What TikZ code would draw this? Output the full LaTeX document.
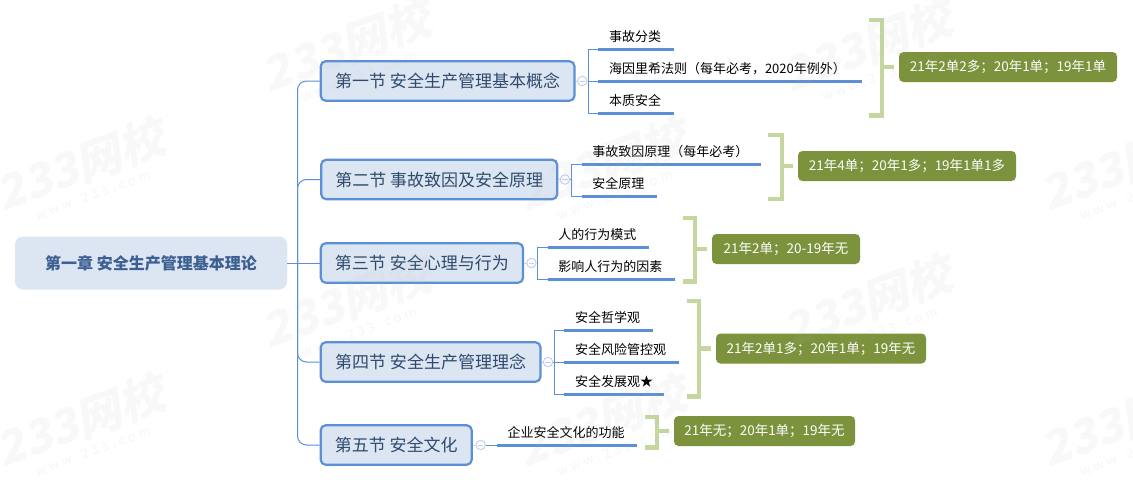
\documentclass[tikz,border=0pt]{standalone}
\usepackage{fontspec}
\setmainfont{Noto Sans CJK SC}
\usetikzlibrary{calc}
\definecolor{linkblue}{HTML}{5B8FD6}
\definecolor{boxfill}{HTML}{DCE6F2}
\definecolor{sectext}{HTML}{2F4A6D}
\definecolor{roottext}{HTML}{3D5F92}
\definecolor{tagfill}{HTML}{7C923C}
\definecolor{bracegreen}{HTML}{C5D79F}
\definecolor{circleblue}{HTML}{C3D1EE}
\definecolor{wmgray}{HTML}{B8B8B8}
\tikzset{
  x=1pt,y=-1pt,
  rootbox/.style={fill=boxfill,rounded corners=8,text=roottext,font=\fontsize{16}{19}\selectfont\bfseries,minimum width=272,minimum height=53,inner sep=0},
  secbox/.style={draw=linkblue,line width=2.2pt,fill=boxfill,rounded corners=5,text=sectext,font=\fontsize{17}{20}\selectfont,minimum height=39.5,inner sep=0},
  leaf/.style={anchor=south west,font=\fontsize{13}{15}\selectfont,inner xsep=10.5,inner ysep=0,minimum height=24.5,text width=#1,align=left,text=black},
  tagbox/.style={fill=tagfill,rounded corners=4.5,text=white,font=\fontsize{13.5}{15}\selectfont,minimum height=30,inner sep=0},
  conn/.style={draw=linkblue,line width=1pt},
  fork/.style={conn,rounded corners=9},
  under/.style={draw=linkblue,line width=3pt},
  brk/.style={draw=bracegreen,line width=4.4pt},
  tick/.style={brk,shorten >=4.4pt},
  collapse/.style={circle,draw=circleblue,line width=1pt,fill=white,minimum size=9.5,inner sep=0,
    path picture={\draw[circleblue,line width=.9pt] ($(path picture bounding box.center)+(-2.6,0)$) -- ($(path picture bounding box.center)+(2.6,0)$);}},
  wmmain/.style={text=wmgray,opacity=.09,rotate=20,xslant=.22,font=\fontsize{46}{50}\selectfont\bfseries,inner sep=0},
  wmsub/.style={text=wmgray,opacity=.12,rotate=20,font=\fontsize{13}{15}\selectfont\addfontfeatures{LetterSpace=28},inner sep=0},
}
\begin{document}
\begin{tikzpicture}
\useasboundingbox (0,0) rectangle (1133,482);
\fill[white] (0,0) rectangle (1133,482);

% main nodes
\node[rootbox] (root) at (151,263) {第一章 安全生产管理基本理论};
\node[secbox,minimum width=253.8] (s1) at (447.6,81) {第一节 安全生产管理基本概念};
\node[secbox,minimum width=236] (s2) at (439.2,179.5) {第二节 事故致因及安全原理};
\node[secbox,minimum width=202.3] (s3) at (421.9,263) {第三节 安全心理与行为};
\node[secbox,minimum width=219.8] (s4) at (430.6,362) {第四节 安全生产管理理念};
\node[secbox,minimum width=151] (s5) at (396.2,445) {第五节 安全文化};

% collapse marks
\node[collapse] (c1) at (582.3,81) {};
\node[collapse] (c2) at (565,179.5) {};
\node[collapse] (c3) at (531.4,263) {};
\node[collapse] (c4) at (548,362) {};
\node[collapse] (c5) at (480.7,445) {};

% leaves
\node[leaf=54] (a1) at (598.3,49.5) {事故分类};
\node[leaf=242] (a2) at (598.3,81) {海因里希法则（每年必考，2020年例外）};
\node[leaf=54] (a3) at (598.3,113) {本质安全};
\node[leaf=158] (b1) at (581.7,164) {事故致因原理（每年必考）};
\node[leaf=54] (b2) at (581.7,196) {安全原理};
\node[leaf=80] (d1) at (547.7,247.3) {人的行为模式};
\node[leaf=106] (d2) at (547.7,279.3) {影响人行为的因素};
\node[leaf=67] (e1) at (564.3,330) {安全哲学观};
\node[leaf=93] (e2) at (564.3,362) {安全风险管控观};
\node[leaf=78] (e3) at (564.3,394) {安全发展观★};
\node[leaf=119] (f1) at (497,445) {企业安全文化的功能};

% tags
\node[tagbox,minimum width=218] (t1) at (1008,67) {21年2单2多；20年1单；19年1单};
\node[tagbox,minimum width=218] (t2) at (907,166) {21年4单；20年1多；19年1单1多};
\node[tagbox,minimum width=148] (t3) at (786,249) {21年2单；20-19年无};
\node[tagbox,minimum width=210] (t4) at (821,348.5) {21年2单1多；20年1单；19年无};
\node[tagbox,minimum width=181] (t5) at (764.5,431) {21年无；20年1单；19年无};

% trunk
\coordinate (tr) at (297.5,263);
\draw[conn] (root.east) -- (s3.west);
\draw[fork] (tr) |- (s1.west);
\draw[fork] (tr) |- (s2.west);
\draw[fork] (tr) |- (s4.west);
\draw[fork] (tr) |- (s5.west);

% section to collapse
\foreach \i in {1,...,5}{\draw[draw=circleblue,line width=1pt] (s\i.east) -- (c\i.west);}

% forks to leaves
\coordinate (j1) at (588.3,81);
\coordinate (j2) at (571.7,179.5);
\coordinate (j3) at (537.3,263);
\coordinate (j4) at (554.3,362);
\draw[conn] (c1.east) -- (j1);
\draw[conn] (j1) |- (a1.south west);
\draw[conn] (j1) -- (a2.south west);
\draw[conn] (j1) |- (a3.south west);
\draw[conn] (c2.east) -- (j2);
\draw[conn] (j2) |- (b1.south west);
\draw[conn] (j2) |- (b2.south west);
\draw[conn] (c3.east) -- (j3);
\draw[conn] (j3) |- (d1.south west);
\draw[conn] (j3) |- (d2.south west);
\draw[conn] (c4.east) -- (j4);
\draw[conn] (j4) |- (e1.south west);
\draw[conn] (j4) -- (e2.south west);
\draw[conn] (j4) |- (e3.south west);
\draw[conn] (c5.east) -- (f1.south west);

% underlines
\foreach \n in {a1,a2,a3,b1,b2,d1,d2,e1,e2,e3,f1}{\draw[under] (\n.south west) -- (\n.south east);}

% brackets
\coordinate (k1) at (881.8,67);
\coordinate (k2) at (781.8,166);
\coordinate (k3) at (695.1,249);
\coordinate (k4) at (699.1,348.5);
\coordinate (k5) at (657.1,431);
\draw[brk] (869,20.2) -- (881.8,20.2) -- (881.8,115.5) -- (869,115.5);
\draw[brk] (768,135.2) -- (781.8,135.2) -- (781.8,198.8) -- (768,198.8);
\draw[brk] (682.7,218.2) -- (695.1,218.2) -- (695.1,281.5) -- (682.7,281.5);
\draw[brk] (686.7,301.2) -- (699.1,301.2) -- (699.1,396.3) -- (686.7,396.3);
\draw[brk] (645,416.7) -- (657.1,416.7) -- (657.1,447.3) -- (645,447.3);
\foreach \i in {1,...,5}{\draw[tick] (k\i) -- (t\i.west);}

% watermarks
\foreach \px/\py [count=\w] in {351/49,872/49,85/168,607/168,1130/168,351/305,872/305,85/424,607/424,1130/424}{
  \node[wmmain] (wma\w) at (\px-1,\py-5) {233网校};
  \node[wmsub] (wmb\w) at (\px+8,\py+27) {www.233.com};
}
\end{tikzpicture}
\end{document}
